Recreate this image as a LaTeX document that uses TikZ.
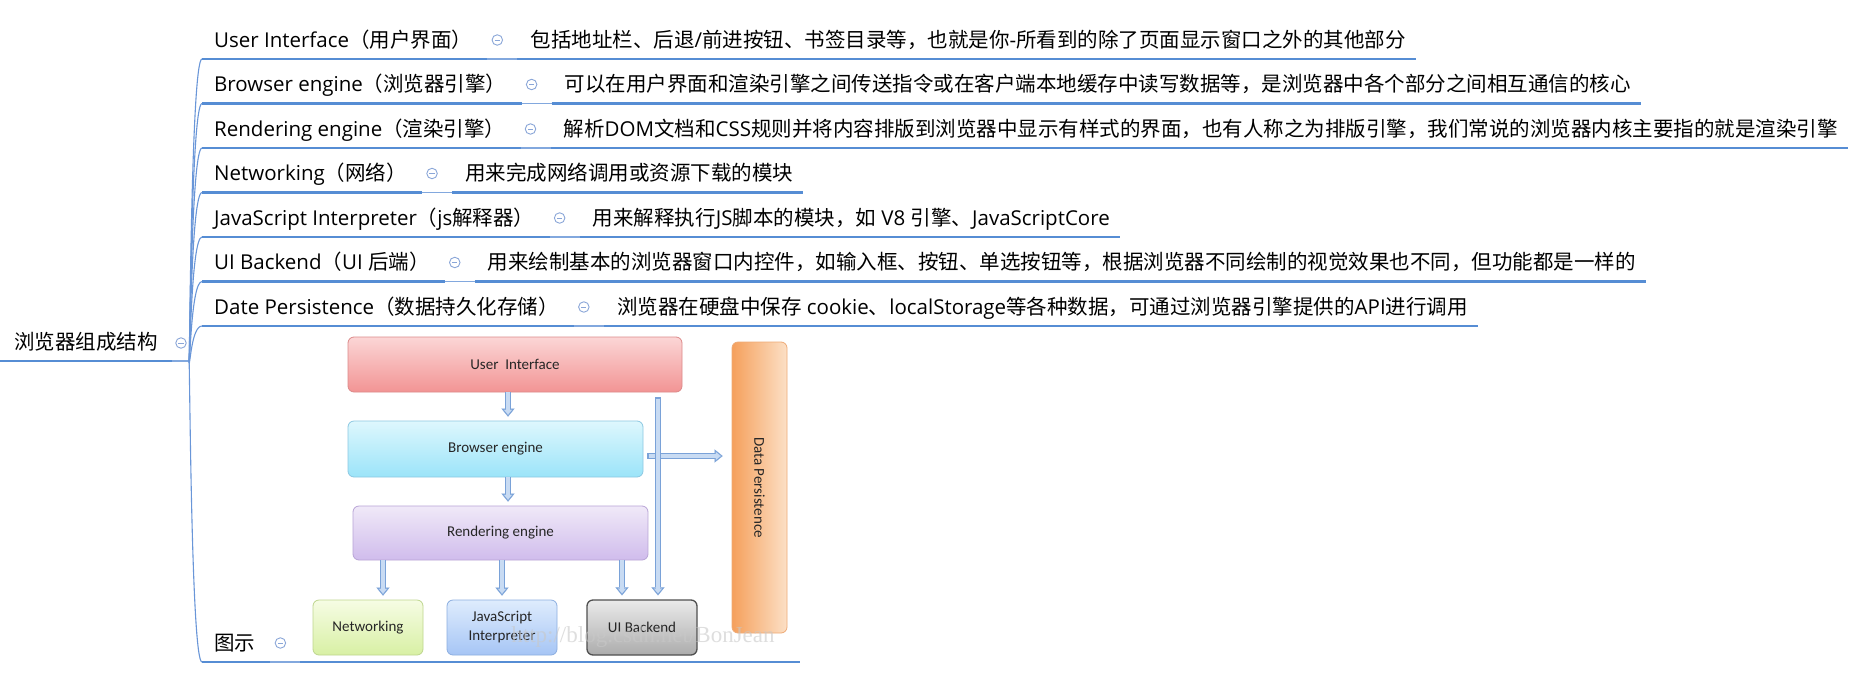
\documentclass[tikz,border=0pt]{standalone}
\usepackage{graphicx}
\usepackage{fontspec}
\setmainfont{Open Sans}
\newfontfamily\cjk{Noto Sans CJK SC}
\newfontfamily\boxfont{Carlito}
\newfontfamily\wmfont{Liberation Serif}
\usetikzlibrary{arrows.meta,calc}

% automatic switch between the Latin font and the CJK font
\XeTeXinterchartokenstate=1
\newXeTeXintercharclass\CJKclass
\newcount\cjkcnt
\def\setcjkrange#1#2{\cjkcnt=#1\relax
  \loop\XeTeXcharclass\cjkcnt=\CJKclass\relax
  \advance\cjkcnt by 1\relax
  \ifnum\cjkcnt<#2\relax\repeat}
\setcjkrange{"3000}{"3040}
\setcjkrange{"4E00}{"A000}
\setcjkrange{"FF00}{"FFF0}
\XeTeXinterchartoks 0 \CJKclass = {\cjk}
\XeTeXinterchartoks 4095 \CJKclass = {\cjk}
\XeTeXinterchartoks \CJKclass 0 = {\rmfamily}
\XeTeXinterchartoks \CJKclass 4095 = {\rmfamily}

\definecolor{lineblue}{RGB}{86,141,212}
\definecolor{thinblue}{RGB}{130,168,222}
\definecolor{connblue}{RGB}{105,150,216}
\definecolor{foldc}{RGB}{138,166,216}
\definecolor{arrowline}{RGB}{122,162,216}
\definecolor{arrowfill}{RGB}{200,219,243}
\definecolor{boxtext}{RGB}{38,38,38}
\definecolor{uiTop}{RGB}{251,214,214}
\definecolor{uiBot}{RGB}{242,148,148}
\definecolor{uiLine}{RGB}{220,138,138}
\definecolor{beTop}{RGB}{222,247,253}
\definecolor{beBot}{RGB}{155,228,249}
\definecolor{beLine}{RGB}{140,200,226}
\definecolor{reTop}{RGB}{240,233,248}
\definecolor{reBot}{RGB}{208,188,236}
\definecolor{reLine}{RGB}{184,164,214}
\definecolor{neTop}{RGB}{246,252,228}
\definecolor{neBot}{RGB}{216,240,164}
\definecolor{neLine}{RGB}{190,214,142}
\definecolor{jsTop}{RGB}{222,236,253}
\definecolor{jsBot}{RGB}{166,197,245}
\definecolor{jsLine}{RGB}{140,174,224}
\definecolor{ubTop}{RGB}{234,234,234}
\definecolor{ubBot}{RGB}{172,172,172}
\definecolor{ubLine}{RGB}{80,80,80}
\definecolor{dpDark}{RGB}{245,160,92}
\definecolor{dpLight}{RGB}{252,224,198}
\definecolor{dpLine}{RGB}{238,170,118}
\definecolor{wmgray}{RGB}{200,200,200}

\tikzset{
  ttl/.style={anchor=base west, inner sep=0pt, text=black,
    font=\rmfamily\fontsize{20.5}{24}\selectfont},
  dsc/.style={anchor=base west, inner sep=0pt, text=black,
    font=\cjk\fontsize{20.5}{24}\selectfont},
  fold/.style={circle, draw=foldc, fill=white, line width=0.9pt,
    minimum size=10.5pt, inner sep=0pt,
    path picture={\draw[foldc, line width=0.9pt]
      ([xshift=-2.6pt]path picture bounding box.center) --
      ([xshift=2.6pt]path picture bounding box.center);}},
  uthick/.style={draw=lineblue, line width=2.8pt},
  uthin/.style={draw=thinblue, line width=1.1pt},
  conn/.style={draw=connblue, line width=1.1pt, min distance=6pt, max distance=11pt},
  ibox/.style={draw, rounded corners=6pt, line width=0.8pt, inner sep=0pt,
    align=center, text=boxtext, font=\boxfont\fontsize{15}{19}\selectfont},
  arrout/.style={draw=arrowline, line width=6pt,
    -{Triangle[length=8pt,width=13pt,line width=0.1pt]}},
  arrin/.style={draw=arrowfill, line width=3.6pt,
    -{Triangle[length=4.9pt,width=7.9pt,line width=0.1pt]}},
}

\begin{document}
\begin{tikzpicture}[x=1pt,y=-1pt]
\useasboundingbox (0,0) rectangle (1857,680);
\fill[white] (0,0) rectangle (1857,680);

% ---------------- embedded diagram ----------------
\node[ibox, minimum width=334pt, minimum height=55pt, top color=uiTop, bottom color=uiBot, draw=uiLine]
  (ui) at (515,364.5) {User\ \ Interface};
\node[ibox, minimum width=295pt, minimum height=56pt, top color=beTop, bottom color=beBot, draw=beLine]
  (be) at (495.5,449) {Browser engine};
\node[ibox, minimum width=295pt, minimum height=54pt, top color=reTop, bottom color=reBot, draw=reLine]
  (re) at (500.5,533) {Rendering engine};
\node[ibox, minimum width=110pt, minimum height=55pt, top color=neTop, bottom color=neBot, draw=neLine]
  (net) at (368,627.5) {Networking};
\node[ibox, minimum width=110pt, minimum height=55pt, top color=jsTop, bottom color=jsBot, draw=jsLine]
  (js) at (502,627.5) {JavaScript\\Interpreter};
\node[ibox, minimum width=110pt, minimum height=55pt, top color=ubTop, bottom color=ubBot, draw=ubLine, line width=1.3pt]
  (uib) at (642,627.5) {UI Backend};
\node[ibox, minimum width=55pt, minimum height=291pt, left color=dpDark, right color=dpLight, draw=dpLine]
  (dp) at (759.5,487.5) {\rotatebox{-90}{Data Persistence}};

\coordinate (xa) at (508,0);
\coordinate (xn) at (383,0);
\coordinate (xj) at (502,0);
\coordinate (xu) at (622,0);
\coordinate (xl) at (658,0);
\coordinate (yh) at (0,456);

\draw[arrout, shorten >=4pt] (ui.south -| xa) -- (be.north -| xa);
\draw[arrin, shorten >=5.9pt] (ui.south -| xa) -- (be.north -| xa);
\draw[arrout, shorten >=4pt] (be.south -| xa) -- (re.north -| xa);
\draw[arrin, shorten >=5.9pt] (be.south -| xa) -- (re.north -| xa);
\draw[arrout, shorten >=4pt] (re.south -| xn) -- (net.north -| xn);
\draw[arrin, shorten >=5.9pt] (re.south -| xn) -- (net.north -| xn);
\draw[arrout, shorten >=4pt] (re.south -| xj) -- (js.north -| xj);
\draw[arrin, shorten >=5.9pt] (re.south -| xj) -- (js.north -| xj);
\draw[arrout, shorten >=4pt] (re.south -| xu) -- (uib.north -| xu);
\draw[arrin, shorten >=5.9pt] (re.south -| xu) -- (uib.north -| xu);
\draw[arrout, shorten <=4pt, shorten >=9pt] (be.east |- yh) -- (dp.west |- yh);
\draw[arrin, shorten <=5.2pt, shorten >=10.9pt] (be.east |- yh) -- (dp.west |- yh);
\draw[arrout, shorten <=5pt, shorten >=4pt] (ui.south -| xl) -- (uib.north -| xl);
\draw[arrin, shorten <=6.2pt, shorten >=5.9pt] (ui.south -| xl) -- (uib.north -| xl);

\node[font=\wmfont\fontsize{23}{26}\selectfont, text=wmgray, opacity=0.6, inner sep=0pt]
  (wm) at (643,637) {http://blog.csdn.net/BonJean};

% ---------------- mind map ----------------
\node[dsc] (root) at (14,349) {浏览器组成结构};
\coordinate (r0) at (0,361);
\coordinate (r1) at (172,361);
\coordinate (R) at (189,361);
\draw[uthick] (r0) -- (r1);
\draw[uthin] (r1) -- (R);
\node[fold] (rf) at (181,343) {};

% row 1
\coordinate (s1) at (202,59);
\node[ttl] (t1) at (214,47) {User Interface（用户界面）};
\node[fold] (f1) at ($(t1.base east)+(25,-7)$) {};
\node[dsc] (d1) at ($(f1)+(33,7)$) {包括地址栏、后退/前进按钮、书签目录等，也就是你-所看到的除了页面显示窗口之外的其他部分};
\draw[conn] (R) to[out=-86,in=180] (s1);
\draw[uthick] (s1) -- ($(f1)+(-10,19)$);
\draw[uthin] ($(f1)+(-10,19)$) -- ($(f1)+(20,19)$);
\draw[uthick] ($(f1)+(20,19)$) -- ($(d1.base east)+(10,12)$);

% row 2
\coordinate (s2) at (202,103.5);
\node[ttl] (t2) at (214,91.5) {Browser engine（浏览器引擎）};
\node[fold] (f2) at ($(t2.base east)+(25,-7)$) {};
\node[dsc] (d2) at ($(f2)+(33,7)$) {可以在用户界面和渲染引擎之间传送指令或在客户端本地缓存中读写数据等，是浏览器中各个部分之间相互通信的核心};
\draw[conn] (R) to[out=-86,in=180] (s2);
\draw[uthick] (s2) -- ($(f2)+(-10,19)$);
\draw[uthin] ($(f2)+(-10,19)$) -- ($(f2)+(20,19)$);
\draw[uthick] ($(f2)+(20,19)$) -- ($(d2.base east)+(10,12)$);

% row 3
\coordinate (s3) at (202,148);
\node[ttl] (t3) at (214,136) {Rendering engine（渲染引擎）};
\node[fold] (f3) at ($(t3.base east)+(25,-7)$) {};
\node[dsc] (d3) at ($(f3)+(33,7)$) {解析DOM文档和CSS规则并将内容排版到浏览器中显示有样式的界面，也有人称之为排版引擎，我们常说的浏览器内核主要指的就是渲染引擎};
\draw[conn] (R) to[out=-86,in=180] (s3);
\draw[uthick] (s3) -- ($(f3)+(-10,19)$);
\draw[uthin] ($(f3)+(-10,19)$) -- ($(f3)+(20,19)$);
\draw[uthick] ($(f3)+(20,19)$) -- ($(d3.base east)+(10,12)$);

% row 4
\coordinate (s4) at (202,192.5);
\node[ttl] (t4) at (214,180.5) {Networking（网络）};
\node[fold] (f4) at ($(t4.base east)+(25,-7)$) {};
\node[dsc] (d4) at ($(f4)+(33,7)$) {用来完成网络调用或资源下载的模块};
\draw[conn] (R) to[out=-86,in=180] (s4);
\draw[uthick] (s4) -- ($(f4)+(-10,19)$);
\draw[uthin] ($(f4)+(-10,19)$) -- ($(f4)+(20,19)$);
\draw[uthick] ($(f4)+(20,19)$) -- ($(d4.base east)+(10,12)$);

% row 5
\coordinate (s5) at (202,237);
\node[ttl] (t5) at (214,225) {JavaScript Interpreter（js解释器）};
\node[fold] (f5) at ($(t5.base east)+(25,-7)$) {};
\node[dsc] (d5) at ($(f5)+(33,7)$) {用来解释执行JS脚本的模块，如 V8 引擎、JavaScriptCore};
\draw[conn] (R) to[out=-86,in=180] (s5);
\draw[uthick] (s5) -- ($(f5)+(-10,19)$);
\draw[uthin] ($(f5)+(-10,19)$) -- ($(f5)+(20,19)$);
\draw[uthick] ($(f5)+(20,19)$) -- ($(d5.base east)+(10,12)$);

% row 6
\coordinate (s6) at (202,281.5);
\node[ttl] (t6) at (214,269.5) {UI Backend（UI 后端）};
\node[fold] (f6) at ($(t6.base east)+(25,-7)$) {};
\node[dsc] (d6) at ($(f6)+(33,7)$) {用来绘制基本的浏览器窗口内控件，如输入框、按钮、单选按钮等，根据浏览器不同绘制的视觉效果也不同，但功能都是一样的};
\draw[conn] (R) to[out=-86,in=180] (s6);
\draw[uthick] (s6) -- ($(f6)+(-10,19)$);
\draw[uthin] ($(f6)+(-10,19)$) -- ($(f6)+(20,19)$);
\draw[uthick] ($(f6)+(20,19)$) -- ($(d6.base east)+(10,12)$);

% row 7
\coordinate (s7) at (202,326);
\node[ttl] (t7) at (214,314) {Date Persistence（数据持久化存储）};
\node[fold] (f7) at ($(t7.base east)+(25,-7)$) {};
\node[dsc] (d7) at ($(f7)+(33,7)$) {浏览器在硬盘中保存 cookie、localStorage等各种数据，可通过浏览器引擎提供的API进行调用};
\draw[conn] (R) to[out=-86,in=180] (s7);
\draw[uthick] (s7) -- ($(f7)+(-10,19)$);
\draw[uthin] ($(f7)+(-10,19)$) -- ($(f7)+(20,19)$);
\draw[uthick] ($(f7)+(20,19)$) -- ($(d7.base east)+(10,12)$);

% row 8 (图示)
\coordinate (s8) at (202,662);
\coordinate (e8) at (800,662);
\node[dsc] (t8) at (214,650) {图示};
\node[fold] (f8) at ($(t8.base east)+(25,-7)$) {};
\draw[conn] (R) to[out=86,in=180] (s8);
\draw[uthick] (s8) -- ($(f8)+(-10,19)$);
\draw[uthin] ($(f8)+(-10,19)$) -- ($(f8)+(20,19)$);
\draw[uthick] ($(f8)+(20,19)$) -- (e8);
\end{tikzpicture}
\end{document}
